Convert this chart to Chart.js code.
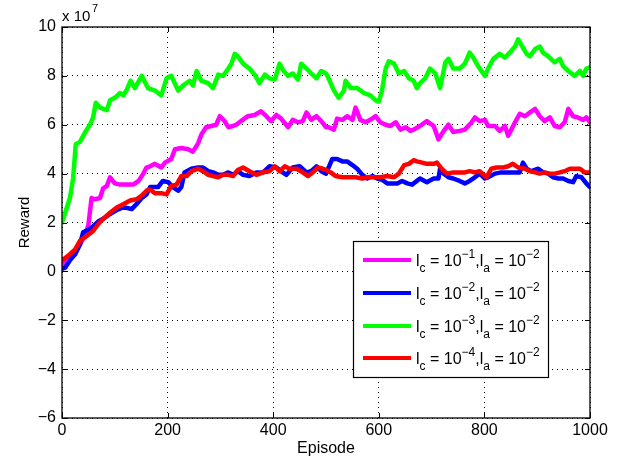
<!DOCTYPE html>
<html>
<head>
<meta charset="utf-8">
<script src="https://cdn.jsdelivr.net/npm/chart.js@4.4.1/dist/chart.umd.min.js"></script>
<style>
  html, body { margin: 0; padding: 0; background: #fff; }
  #wrap { width: 629px; height: 462px; }
</style>
</head>
<body>
<div id="wrap"><canvas id="c" width="629" height="462"></canvas></div>
<script>
// values are in units of 1e7 (shown as "x 10^7" above the axis)
const xTicks = [0, 200, 400, 600, 800, 1000]
const yTicks = [-6, -4, -2, 0, 2, 4, 6, 8, 10]

const seriesNames = ['l_c = 10^-1, l_a = 10^-2', 'l_c = 10^-2, l_a = 10^-2', 'l_c = 10^-3, l_a = 10^-2', 'l_c = 10^-4, l_a = 10^-2']
const lcExp = ['\u22121', '\u22122', '\u22123', '\u22124']
const laExp = '\u22122'
const colors = ['#ff00ff', '#0000ff', '#00ff00', '#ff0000']

const magEp = [0,9,21,34,44,50,56,62,72,78,85,91,100,110,122,135,145,154,160,167,176,188,195,207,214,226,239,248,258,264,273,283,292,299,308,315,324,330,339,352,365,377,387,396,406,415,428,437,447,456,463,472,482,491,500,505,515,521,531,540,550,556,565,575,584,594,603,613,622,632,641,651,660,666,678,691,704,713,723,732,741,753,763,776,782,791,801,807,820,829,839,845,851,858,867,877,886,896,905,914,924,933,943,952,959,968,977,987,993,1000]
const magVal = [0.2,0.45,0.7,1.1,1.5,1.9,3.0,2.95,3.0,3.4,3.5,3.85,3.6,3.55,3.55,3.55,3.7,4.0,4.25,4.3,4.4,4.25,4.45,4.6,5.0,5.05,5.0,4.9,5.25,5.6,5.9,5.95,6.0,6.35,6.15,5.9,5.95,6.0,6.15,6.35,6.4,6.55,6.35,6.15,6.4,6.25,5.9,6.2,6.1,6.15,6.5,6.2,6.35,6.15,5.9,5.9,5.8,6.25,6.2,6.35,6.2,6.7,6.2,6.1,6.2,6.35,6.1,6.0,5.95,6.1,5.8,5.9,5.75,5.8,5.95,6.15,5.95,5.4,5.75,6.0,5.7,5.75,5.8,6.1,6.3,6.15,6.2,5.95,5.95,5.75,5.95,5.55,5.8,6.1,6.45,6.35,6.5,6.65,6.35,6.15,6.3,5.95,5.9,6.1,6.65,6.35,6.3,6.2,6.3,6.1]

const blueEp = [0,6,15,25,34,40,50,59,69,78,91,103,113,122,132,141,151,160,167,172,182,191,201,210,220,226,232,245,258,267,277,286,296,305,315,324,333,343,355,368,381,393,406,418,425,437,450,463,472,482,491,500,512,521,531,540,550,559,569,578,588,597,606,616,625,635,644,654,663,678,691,704,713,716,723,732,741,753,763,772,782,791,801,807,820,832,845,858,867,873,880,889,902,911,921,930,940,949,959,968,974,984,993,1000]
const blueVal = [0.1,0.15,0.45,0.7,1.1,1.6,1.7,1.85,2.05,2.15,2.35,2.5,2.6,2.6,2.55,2.75,3.0,3.15,3.45,3.45,3.45,3.7,3.65,3.45,3.3,3.45,4.05,4.2,4.25,4.25,4.1,4.05,3.95,3.95,4.05,3.95,4.1,3.95,3.9,4.05,4.05,4.3,4.25,4.05,3.95,4.25,4.3,4.05,4.1,4.3,4.1,4.0,4.6,4.6,4.5,4.5,4.35,4.2,3.95,3.8,3.9,3.8,3.75,3.6,3.6,3.6,3.7,3.6,3.55,3.8,3.65,3.8,3.8,4.2,4.0,3.85,3.8,3.7,3.6,3.7,3.85,4.0,3.8,3.85,4.0,4.05,4.05,4.05,4.05,4.45,4.2,4.1,4.2,4.05,4.0,3.85,3.8,3.8,3.7,3.65,3.9,3.85,3.6,3.45]

const greenEp = [0,15,21,26,34,44,53,59,64,72,85,91,100,110,116,122,130,138,151,163,176,188,198,207,220,229,242,248,255,264,277,286,296,305,315,321,327,333,343,355,365,374,384,393,403,412,418,428,437,447,453,463,472,482,491,500,505,515,524,534,537,547,559,572,584,594,600,606,613,619,629,638,648,657,666,672,678,688,697,707,716,726,732,741,753,763,772,779,788,801,807,817,829,839,848,858,864,873,880,886,896,905,911,921,933,943,949,959,971,981,987,993,1000]
const greenVal = [2.0,3.0,3.8,5.2,5.3,5.7,6.0,6.3,6.9,6.7,6.6,7.0,7.1,7.3,7.2,7.4,7.8,7.5,8.0,7.5,7.4,7.2,7.9,8.0,7.4,7.6,7.8,7.6,8.2,7.8,7.7,7.5,8.05,8.0,8.3,8.5,8.9,8.8,8.5,8.3,8.05,7.7,8.05,7.9,7.85,8.5,8.25,8.0,8.1,7.85,8.5,8.3,8.1,7.9,8.2,8.1,7.9,7.4,7.1,7.4,7.8,7.5,7.5,7.3,7.2,7.0,6.95,7.4,8.3,8.6,8.5,8.1,8.2,7.9,7.8,7.5,7.7,7.9,8.3,8.1,7.5,8.55,8.7,8.3,8.3,8.5,8.95,8.75,8.4,8.0,8.3,8.7,8.9,8.75,8.95,9.2,9.5,9.15,8.9,8.8,9.1,9.2,8.95,8.8,8.55,8.7,8.4,8.2,8.0,8.2,8.0,8.3,8.35]

const redEp = [0,6,15,25,34,47,59,69,78,91,103,116,129,141,151,160,167,176,188,198,207,217,226,236,245,258,267,277,286,296,305,315,324,333,343,355,368,381,393,403,412,422,431,444,456,466,475,485,494,500,509,518,531,543,556,569,578,591,603,616,629,638,648,657,666,672,682,691,704,710,719,729,741,753,763,772,782,791,804,813,823,836,845,854,864,877,886,896,905,914,924,933,943,952,962,971,981,990,1000]
const redVal = [0.45,0.55,0.7,0.9,1.25,1.45,1.65,1.95,2.15,2.4,2.6,2.75,2.9,2.95,3.1,3.3,3.35,3.2,3.2,3.15,3.5,3.55,3.9,3.9,4.1,4.2,4.1,3.95,3.9,3.85,3.95,3.95,3.9,4.15,4.25,4.1,3.95,4.05,4.1,4.3,4.1,4.3,4.2,4.2,4.05,3.9,4.05,4.25,4.2,4.15,4.05,3.9,3.85,3.85,3.85,3.8,3.85,3.85,3.85,3.9,3.85,4.0,4.35,4.4,4.55,4.5,4.45,4.4,4.4,4.45,4.2,4.0,4.05,4.05,4.05,4.1,4.05,4.1,3.85,4.2,4.25,4.25,4.3,4.4,4.25,4.2,4.1,4.05,4.0,4.05,4.0,4.0,4.05,4.1,4.2,4.2,4.2,4.05,4.05]

const FONT = '"Liberation Sans", Arial, Helvetica, sans-serif'

function pts(ep, val) {
    return ep.map((x, i) => ({ x: x, y: val[i] }))
}
function minus(v) {
    return v < 0 ? '\u2212' + (-v) : String(v)
}

// MATLAB style box, inward ticks, the legend with sub/superscripts and the x10^7 note
const matlabBits = {
    id: 'matlabBits',
    afterDatasetsDraw(chart) {
        const ctx = chart.ctx
        const a = chart.chartArea
        const xs = chart.scales.x
        const ys = chart.scales.y
        ctx.save()
        ctx.strokeStyle = '#000'
        ctx.lineWidth = 1
        ctx.beginPath()
        xTicks.forEach(t => {
            const px = Math.round(xs.getPixelForValue(t)) + 0.5
            ctx.moveTo(px, a.bottom); ctx.lineTo(px, a.bottom - 5)
            ctx.moveTo(px, a.top); ctx.lineTo(px, a.top + 5)
        })
        yTicks.forEach(t => {
            const py = Math.round(ys.getPixelForValue(t)) + 0.5
            ctx.moveTo(a.left, py); ctx.lineTo(a.left + 5, py)
            ctx.moveTo(a.right, py); ctx.lineTo(a.right - 5, py)
        })
        ctx.stroke()
        ctx.lineWidth = 1.3
        ctx.strokeRect(a.left, a.top, a.right - a.left, a.bottom - a.top)

        // legend
        const bx = 353, by = 241, bw = 195, bh = 136
        ctx.fillStyle = '#fff'
        ctx.fillRect(bx, by, bw, bh)
        ctx.lineWidth = 1.2
        ctx.strokeRect(bx + 0.5, by + 0.5, bw, bh)
        const rowY = [260, 293, 326, 358]
        chart.data.datasets.forEach((ds, i) => {
            const y = rowY[i]
            ctx.strokeStyle = ds.borderColor
            ctx.lineWidth = 4
            ctx.beginPath()
            ctx.moveTo(363, y); ctx.lineTo(411, y)
            ctx.stroke()
            let x = 416
            const base = y + 6
            ctx.fillStyle = '#000'
            ctx.textBaseline = 'alphabetic'
            ctx.textAlign = 'left'
            const put = (s, size, dy) => {
                ctx.font = size + 'px ' + FONT
                ctx.fillText(s, x, base + dy)
                x += ctx.measureText(s).width
            }
            put('l', 16, 0)
            put('c', 12, 6)
            put(' = 10', 16, 0)
            put(lcExp[i], 12, -8)
            put(',l', 16, 0)
            put('a', 12, 6)
            put(' = 10', 16, 0)
            put(laExp, 12, -8)
        })

        // exponent note
        ctx.fillStyle = '#000'
        ctx.textAlign = 'left'
        ctx.textBaseline = 'alphabetic'
        ctx.font = '15px ' + FONT
        ctx.fillText('x 10', 62, 21)
        ctx.font = '11px ' + FONT
        ctx.fillText('7', 92, 12)
        ctx.restore()
    }
}

document.addEventListener('DOMContentLoaded', function () {
    const ctx = document.getElementById('c').getContext('2d')
    const allEp = [magEp, blueEp, greenEp, redEp]
    const allVal = [magVal, blueVal, greenVal, redVal]

    new Chart(ctx, {
        type: 'line',
        data: {
            datasets: seriesNames.map((name, i) => ({
                label: name,
                data: pts(allEp[i], allVal[i]),
                borderColor: colors[i],
                backgroundColor: colors[i],
                borderWidth: 4.5,
                pointRadius: 0,
                tension: 0,
                borderJoinStyle: 'round',
                borderCapStyle: 'round',
                order: 4 - i
            }))
        },
        options: {
            responsive: false,
            animation: false,
            devicePixelRatio: 1,
            layout: { padding: { left: 0, top: 27, right: 39, bottom: 0 } },
            plugins: {
                legend: { display: false },
                tooltip: { enabled: false }
            },
            scales: {
                x: {
                    type: 'linear',
                    min: 0,
                    max: 1000,
                    afterBuildTicks(scale) { scale.ticks = xTicks.map(v => ({ value: v })) },
                    afterFit(scale) { scale.height = 44 },
                    grid: { color: '#000', lineWidth: 1, drawTicks: false },
                    border: { display: false, dash: [1, 4] },
                    ticks: {
                        color: '#000',
                        padding: 3,
                        maxRotation: 0,
                        font: { family: FONT, size: 16 },
                        callback: v => minus(v)
                    },
                    title: {
                        display: true,
                        text: 'Episode',
                        color: '#000',
                        font: { family: FONT, size: 16 },
                        padding: { top: 0, bottom: 4 }
                    }
                },
                y: {
                    type: 'linear',
                    min: -6,
                    max: 10,
                    afterBuildTicks(scale) { scale.ticks = yTicks.map(v => ({ value: v })) },
                    afterFit(scale) { scale.width = 62 },
                    grid: { color: '#000', lineWidth: 1, drawTicks: false },
                    border: { display: false, dash: [1, 4] },
                    ticks: {
                        color: '#000',
                        padding: 6,
                        font: { family: FONT, size: 16 },
                        callback: v => minus(v)
                    },
                    title: {
                        display: true,
                        text: 'Reward',
                        color: '#000',
                        font: { family: FONT, size: 15 },
                        padding: { top: 16, bottom: 0 }
                    }
                }
            }
        },
        plugins: [matlabBits]
    })
})
</script>
</body>
</html>
